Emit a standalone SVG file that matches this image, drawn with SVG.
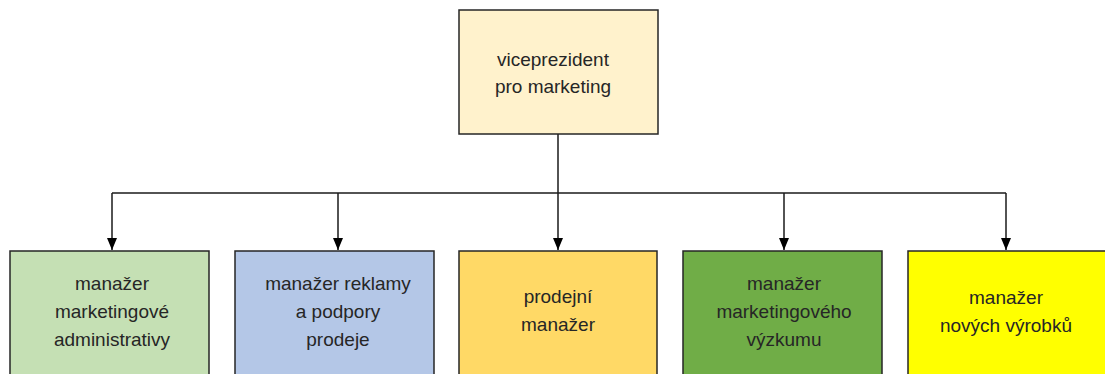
<svg xmlns="http://www.w3.org/2000/svg" width="1105" height="374" viewBox="0 0 1105 374">
<defs>
<style>
.box{stroke:#262626;stroke-width:1.5}
.t{font-family:"Liberation Sans",Arial,sans-serif;font-size:19px;fill:#262626;text-anchor:middle}
.c{fill:none;stroke:#1a1a1a;stroke-width:1.5}
</style>
<marker id="ah" markerWidth="12" markerHeight="10" refX="12" refY="5" orient="auto" markerUnits="userSpaceOnUse" viewBox="0 0 12 10">
<path d="M0,0 L12,5 L0,10 Z" fill="#000"/>
</marker>
</defs>
<rect width="1105" height="374" fill="#fff"/>
<g id="connectors">
<path class="c" d="M558,134 V193"/>
<path class="c" d="M112,193 H1006"/>
<path class="c" d="M112,193 V250" marker-end="url(#ah)"/>
<path class="c" d="M338,193 V250" marker-end="url(#ah)"/>
<path class="c" d="M558,193 V250" marker-end="url(#ah)"/>
<path class="c" d="M784,193 V250" marker-end="url(#ah)"/>
<path class="c" d="M1006,193 V250" marker-end="url(#ah)"/>
</g>
<g id="n0">
<rect class="box" x="459" y="10" width="199" height="124" fill="#FFF2CC"/>
<text class="t" x="553" y="66">viceprezident</text>
<text class="t" x="553" y="93">pro marketing</text>
</g>
<g id="n1">
<rect class="box" x="10" y="251" width="199" height="130" fill="#C5E0B4"/>
<text class="t" x="112" y="290">manažer</text>
<text class="t" x="112" y="318">marketingové</text>
<text class="t" x="112" y="346">administrativy</text>
</g>
<g id="n2">
<rect class="box" x="235" y="251" width="199" height="130" fill="#B4C7E7"/>
<text class="t" x="338" y="290">manažer reklamy</text>
<text class="t" x="338" y="318">a podpory</text>
<text class="t" x="338" y="346">prodeje</text>
</g>
<g id="n3">
<rect class="box" x="459" y="251" width="198" height="130" fill="#FFD966"/>
<text class="t" x="558" y="303">prodejní</text>
<text class="t" x="558" y="331">manažer</text>
</g>
<g id="n4">
<rect class="box" x="683" y="251" width="199" height="130" fill="#70AD47"/>
<text class="t" x="784" y="290">manažer</text>
<text class="t" x="784" y="318">marketingového</text>
<text class="t" x="784" y="346">výzkumu</text>
</g>
<g id="n5">
<rect class="box" x="908" y="251" width="200" height="130" fill="#FFFF00"/>
<text class="t" x="1006" y="304">manažer</text>
<text class="t" x="1006" y="332">nových výrobků</text>
</g>
</svg>
